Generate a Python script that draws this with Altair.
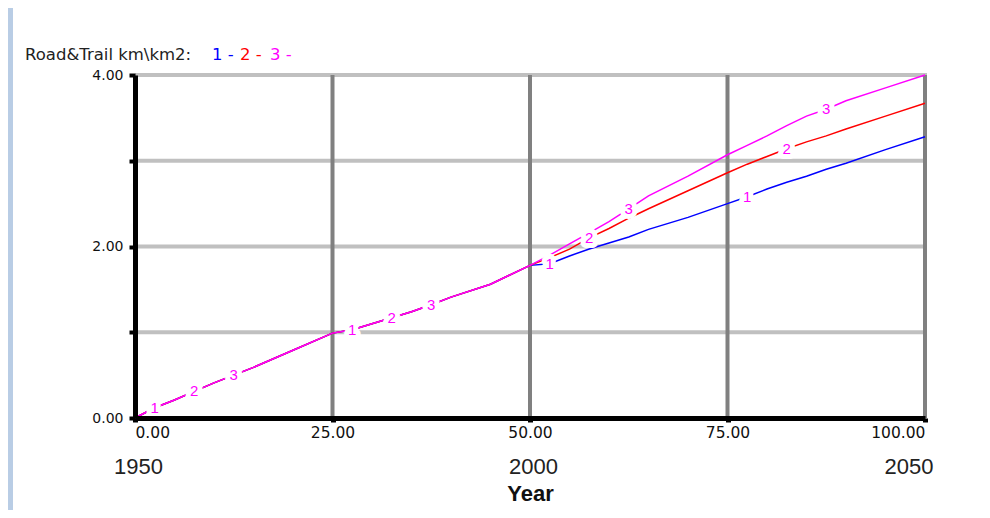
import altair as alt
import pandas as pd

# ---------------- data ----------------
years = [0, 2.5, 5, 7.5, 10, 12.5, 15, 20, 25, 27.5, 30, 32.5, 35, 37.5, 40, 45, 50,
         52.5, 55, 57.5, 60, 62.5, 65, 70, 75, 77.5, 80, 82.5, 85, 87.5, 90, 95, 100]

shared_part = [0.00, 0.12, 0.21, 0.31, 0.41, 0.50, 0.59, 0.79, 0.99, 1.03, 1.10, 1.17,
               1.24, 1.32, 1.41, 1.56, 1.78]
tail_1 = [1.80, 1.89, 1.97, 2.04, 2.11, 2.20, 2.34, 2.50, 2.58, 2.67, 2.75, 2.82, 2.90,
          2.97, 3.13, 3.28]
tail_2 = [1.87, 1.97, 2.10, 2.21, 2.33, 2.44, 2.65, 2.86, 2.96, 3.05, 3.14, 3.22, 3.29,
          3.37, 3.52, 3.67]
tail_3 = [1.90, 2.03, 2.16, 2.29, 2.44, 2.59, 2.82, 3.07, 3.18, 3.29, 3.41, 3.52, 3.60,
          3.70, 3.85, 4.00]

series_names = ["1", "2", "3"]
series_colors = ["#0000ff", "#ff0000", "#ff00ff"]
series_values = {
    "1": shared_part + tail_1,
    "2": shared_part + tail_2,
    "3": shared_part + tail_3,
}

label_times = [2.5, 7.5, 12.5, 27.5, 32.5, 37.5, 52.5, 57.5, 62.5, 77.5, 82.5, 87.5]
label_series = ["1", "2", "3", "1", "2", "3", "1", "2", "3", "1", "2", "3"]

x_ticks = [0, 25, 50, 75, 100]
x_grid = [25, 50, 75, 100]
y_ticks = [0, 1, 2, 3, 4]
y_grid = [1, 2, 3, 4]
year_ticks = [0, 50, 100]
year_labels = ["1950", "2000", "2050"]

title_text = "Road&Trail km\\km2:"

# ---------------- tables ----------------
rows = []
for s in series_names:
    for t, v in zip(years, series_values[s]):
        rows.append({"t": t, "v": v, "s": s})
df = pd.DataFrame(rows)

lab_rows = []
for t, s in zip(label_times, label_series):
    lab_rows.append({"t": t, "v": series_values[s][years.index(t)], "s": s})
lab_df = pd.DataFrame(lab_rows)

W, H = 790, 343

x_scale = alt.Scale(domain=[0, 100], nice=False, zero=False)
y_scale = alt.Scale(domain=[0, 4], nice=False, zero=False)

year_expr = "''"
for v, l in zip(year_ticks, year_labels):
    year_expr = f"datum.value == {v} ? '{l}' : ({year_expr})"

main_x_axis = alt.Axis(values=x_ticks, format=".2f", labelFlush=True, grid=False,
                       domainColor="black", domainWidth=5, tickColor="black",
                       tickWidth=5, tickSize=4, labelFont="DejaVu Sans",
                       labelFontSize=15.5, labelColor="#111111", labelPadding=3,
                       title=None, zindex=1)
main_y_axis = alt.Axis(values=y_ticks,
                       labelExpr="datum.value % 2 == 0 ? format(datum.value, '.2f') : ''",
                       grid=False, domainColor="black", domainWidth=5,
                       tickColor="black", tickWidth=4, tickSize=6, labelPadding=6,
                       labelFont="DejaVu Sans", labelFontSize=14,
                       labelColor="#111111", title=None, zindex=1)
year_axis = alt.Axis(values=year_ticks, labelExpr=year_expr, orient="bottom",
                     labelFont="Liberation Sans", labelFontSize=22,
                     labelColor="#222222", domain=False, ticks=False, grid=False,
                     labelFlush=False, labelPadding=38,
                     labelAlign={"condition": {"test": "datum.value >= 100", "value": "right"},
                                 "value": "center"},
                     labelOffset={"condition": {"test": "datum.value >= 100", "value": 8},
                                  "value": 3},
                     title="Year", titleFont="Liberation Sans", titleFontSize=22,
                     titleFontWeight="bold", titleColor="#111111", titlePadding=6,
                     zindex=1)

panel = alt.Chart(alt.Data(values=[{"a": 1}])).mark_rect(color="white").encode(
    x=alt.value(-122), x2=alt.value(900), y=alt.value(-80), y2=alt.value(600)
)

hgrid = alt.Chart(pd.DataFrame({"v": y_grid})).mark_rule(
    color="#c0c0c0", strokeWidth=4
).encode(
    y=alt.Y("v:Q", scale=y_scale, axis=main_y_axis), x=alt.value(0), x2=alt.value(W + 2)
)

vgrid = alt.Chart(pd.DataFrame({"g": x_grid})).mark_rule(
    color="#808080", strokeWidth=4
).encode(
    x=alt.X("g:Q", scale=x_scale, axis=None), y=alt.value(0), y2=alt.value(H)
)

lines = alt.Chart(df).mark_line(strokeWidth=1.5).encode(
    x=alt.X("t:Q", scale=x_scale, axis=main_x_axis),
    y=alt.Y("v:Q", scale=y_scale, axis=main_y_axis),
    color=alt.Color("s:N", scale=alt.Scale(domain=series_names, range=series_colors),
                    legend=None),
    detail="s:N",
)

halo = alt.Chart(lab_df).mark_text(
    font="Liberation Sans", fontSize=15, fill="white", stroke="white",
    strokeWidth=10, strokeJoin="round", baseline="middle"
).encode(
    x=alt.X("t:Q", scale=x_scale, axis=year_axis),
    y=alt.Y("v:Q", scale=y_scale, axis=main_y_axis),
    text="s:N",
)

labels = alt.Chart(lab_df).mark_text(
    font="Liberation Sans", fontSize=15, color="#ff00ff", baseline="middle"
).encode(
    x=alt.X("t:Q", scale=x_scale, axis=None),
    y=alt.Y("v:Q", scale=y_scale, axis=main_y_axis),
    text="s:N",
)

title_layers = []
pieces = [(title_text, "#222222", -110)]
for name, col, px in zip(series_names, series_colors, [77, 105, 135]):
    pieces.append((f"{name} -", col, px))
for txt, col, px in pieces:
    title_layers.append(
        alt.Chart(pd.DataFrame({"txt": [txt]})).mark_text(
            font="DejaVu Sans", fontSize=16.5, color=col, align="left", baseline="middle"
        ).encode(x=alt.value(px), y=alt.value(-20), text="txt:N")
    )

chart = alt.layer(panel, hgrid, vgrid, lines, halo, labels, *title_layers).resolve_axis(
    x="independent"
).properties(
    width=W, height=H,
    padding={"left": 127, "top": 67, "right": 55, "bottom": 92},
    autosize=alt.AutoSizeParams(type="none"),
    background="#b9cde5",
).configure_view(strokeWidth=0)

chart.save("out.html", embed_options={"renderer": "svg", "actions": False})
